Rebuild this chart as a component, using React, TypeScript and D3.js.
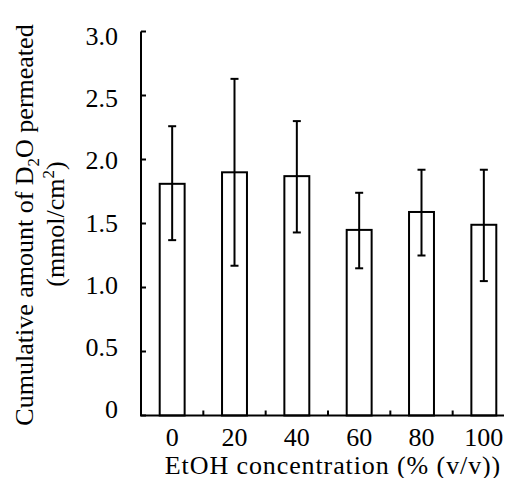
import * as d3 from 'd3';
import React, { useRef, useEffect } from 'react';

const categories = ['0', '20', '40', '60', '80', '100'];
const means = [1.81, 1.9, 1.87, 1.45, 1.59, 1.49];
const upper = [2.26, 2.63, 2.3, 1.74, 1.92, 1.92];
const lower = [1.37, 1.17, 1.43, 1.15, 1.25, 1.05];
const yTicks = [0, 0.5, 1.0, 1.5, 2.0, 2.5, 3.0];

const W = 512;
const H = 486;
const FONT = 'Liberation Serif';

function Chart() {
  const ref = useRef<SVGSVGElement>(null);

  useEffect(() => {
    const svg = d3.select(ref.current);
    svg.selectAll('*').remove();

    const x = d3
      .scaleBand()
      .domain(categories)
      .range([141, 515])
      .paddingInner(0.6)
      .paddingOuter(0.3);
    const y = d3.scaleLinear().domain([0, 3]).range([415.5, 31.5]);
    // tick labels sit on a slightly tighter scale than the ticks
    const yLab = d3.scaleLinear().domain([0, 3]).range([418, 45]);

    const g = svg.append('g').attr('font-family', FONT).attr('font-size', 26);

    // bars
    g.selectAll('rect.bar')
      .data(means)
      .enter()
      .append('rect')
      .attr('class', 'bar')
      .attr('x', (d, i) => x(categories[i])!)
      .attr('y', d => y(d))
      .attr('width', x.bandwidth())
      .attr('height', d => y(0) - y(d))
      .attr('fill', 'white')
      .attr('stroke', 'black')
      .attr('stroke-width', 2);

    // error bars
    const cx = (i: number) => x(categories[i])! + x.bandwidth() / 2;
    const err = g.selectAll('g.err').data(means).enter().append('g').attr('class', 'err');
    err
      .append('line')
      .attr('x1', (d, i) => cx(i))
      .attr('x2', (d, i) => cx(i))
      .attr('y1', (d, i) => y(lower[i]))
      .attr('y2', (d, i) => y(upper[i]))
      .attr('stroke', 'black')
      .attr('stroke-width', 2);
    [upper, lower].forEach(arr => {
      err
        .append('line')
        .attr('x1', (d, i) => cx(i) - 4)
        .attr('x2', (d, i) => cx(i) + 4)
        .attr('y1', (d, i) => y(arr[i]))
        .attr('y2', (d, i) => y(arr[i]))
        .attr('stroke', 'black')
        .attr('stroke-width', 2);
    });

    // y axis
    g.append('line')
      .attr('x1', 141)
      .attr('x2', 141)
      .attr('y1', y(3))
      .attr('y2', y(0))
      .attr('stroke', 'black')
      .attr('stroke-width', 2);
    g.selectAll('line.ytick')
      .data(yTicks)
      .enter()
      .append('line')
      .attr('class', 'ytick')
      .attr('x1', 141)
      .attr('x2', 146)
      .attr('y1', d => y(d))
      .attr('y2', d => y(d))
      .attr('stroke', 'black')
      .attr('stroke-width', 2);
    g.selectAll('text.ylab')
      .data(yTicks)
      .enter()
      .append('text')
      .attr('class', 'ylab')
      .attr('x', 118)
      .attr('y', d => yLab(d))
      .attr('text-anchor', 'end')
      .text(d => (d === 0 ? '0' : d3.format('.1f')(d)));

    // x axis
    g.append('line')
      .attr('x1', 140)
      .attr('x2', 515)
      .attr('y1', y(0))
      .attr('y2', y(0))
      .attr('stroke', 'black')
      .attr('stroke-width', 2);
    const step = x.step();
    g.selectAll('line.xtick')
      .data(categories.slice(1))
      .enter()
      .append('line')
      .attr('class', 'xtick')
      .attr('x1', d => x(d)! - step * 0.3)
      .attr('x2', d => x(d)! - step * 0.3)
      .attr('y1', y(0))
      .attr('y2', y(0) - 5)
      .attr('stroke', 'black')
      .attr('stroke-width', 2);
    g.selectAll('text.xlab')
      .data(categories)
      .enter()
      .append('text')
      .attr('class', 'xlab')
      .attr('x', d => x(d)! + x.bandwidth() / 2)
      .attr('y', 446)
      .attr('text-anchor', 'middle')
      .text(d => d);

    g.append('text')
      .attr('x', 333)
      .attr('y', 474)
      .attr('text-anchor', 'middle')
      .attr('letter-spacing', 0.9)
      .text('EtOH concentration (% (v/v))');

    // y title
    const t1 = g
      .append('text')
      .attr('transform', 'translate(33,225) rotate(-90)')
      .attr('text-anchor', 'middle');
    t1.append('tspan').text('Cumulative amount of D');
    t1.append('tspan').attr('dy', 6).attr('font-size', 17).text('2');
    t1.append('tspan').attr('dy', -6).text('O permeated');

    const t2 = g
      .append('text')
      .attr('transform', 'translate(64,224) rotate(-90)')
      .attr('text-anchor', 'middle');
    t2.append('tspan').text('(mmol/cm');
    t2.append('tspan').attr('dy', -10).attr('font-size', 17).text('2');
    t2.append('tspan').attr('dy', 10).text(')');
  }, []);

  return <svg ref={ref} width={W} height={H} style={{ display: 'block' }} />;
}

export default function App() {
  return (
    <div style={{ margin: -8 }}>
      <Chart />
    </div>
  );
}
